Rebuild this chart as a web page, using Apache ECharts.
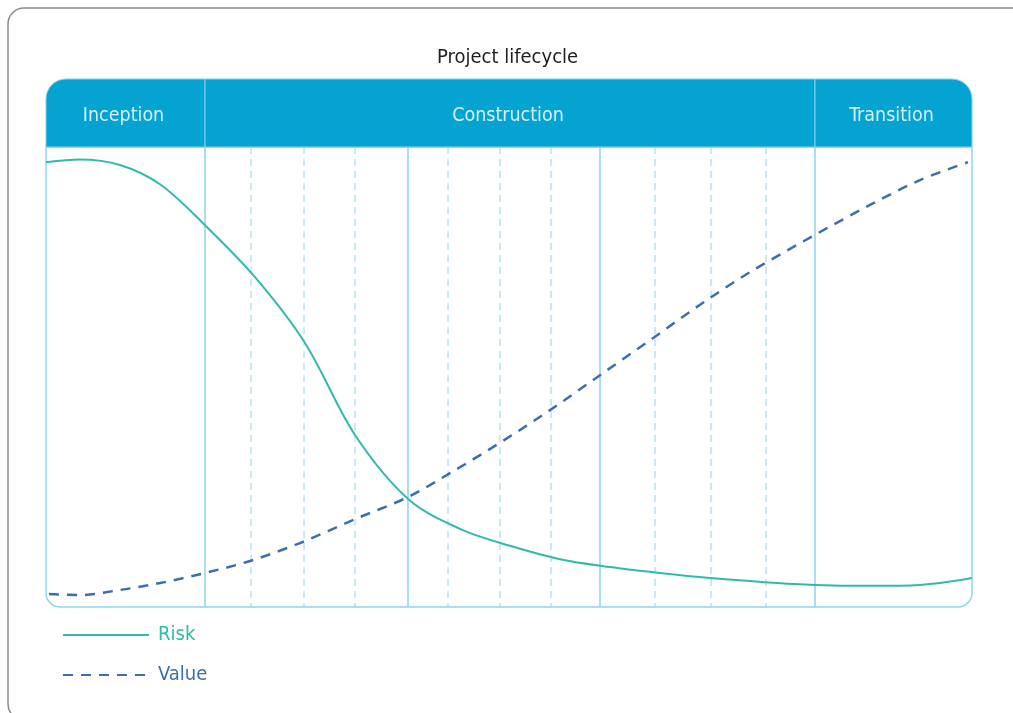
<!DOCTYPE html>
<html>
<head>
<meta charset="utf-8">
<title>Project lifecycle</title>
<script src="https://cdn.jsdelivr.net/npm/echarts@6/dist/echarts.min.js"></script>
<style>
  html, body { margin: 0; padding: 0; background: #ffffff; }
  #chart { width: 1013px; height: 713px; }
</style>
</head>
<body>
<div id="chart"></div>
<script>
// Time runs along x in arbitrary units (0 .. 926); risk and value are 0 .. 100.
const TIME_MAX = 926;

// Phases shown in the header band
const phaseNames = ['Inception', 'Construction', 'Transition'];
const phaseStart = [0, 159, 769];
const phaseEnd = [159, 769, 926];

// Iteration boundaries (solid) and sub-iteration boundaries (dashed)
const iterationLines = [159, 362, 554, 769];
const subIterationLines = [205, 258, 309, 402, 454, 505, 609, 665, 720];

// Risk curve
const riskX = [0, 34, 74, 114, 159, 209, 259, 309, 363, 414, 464, 514, 564, 614, 664, 719, 769, 824, 874, 926];
const riskY = [96.7, 97.3, 96.1, 91.9, 83.0, 71.7, 57.4, 37.4, 23.3, 17.0, 13.3, 10.4, 8.7, 7.4, 6.3, 5.4, 4.8, 4.6, 4.8, 6.3];

// Value curve
const valueX = [3, 34, 74, 114, 159, 204, 254, 309, 362, 404, 454, 504, 554, 604, 654, 704, 769, 824, 874, 922];
const valueY = [2.8, 2.6, 3.7, 5.2, 7.4, 10.0, 13.9, 19.1, 23.9, 29.1, 35.7, 42.8, 50.4, 58.0, 65.7, 72.8, 80.9, 87.4, 92.8, 96.7];

const FONT = '"Liberation Sans Narrow", "DejaVu Sans Condensed", "Roboto Condensed", "Liberation Sans", sans-serif';
const HEADER_BLUE = '#05a3d1';
const RISK_COLOR = '#2fbba8';
const VALUE_COLOR = '#3b6db5';

const chart = echarts.init(document.getElementById('chart'), null, { renderer: 'canvas' });

function renderHeader(params, api) {
  const i = params.dataIndex;
  const p0 = api.coord([api.value(0), 1]);
  const p1 = api.coord([api.value(1), 0]);
  let r = 0;
  if (i === 0) r = [20, 0, 0, 0];
  else if (i === phaseNames.length - 1) r = [0, 20, 0, 0];
  return {
    type: 'group',
    children: [
      {
        type: 'rect',
        shape: { x: p0[0], y: p0[1], width: p1[0] - p0[0], height: p1[1] - p0[1], r: r },
        style: { fill: HEADER_BLUE, stroke: '#84d2ea', lineWidth: 1 }
      },
      {
        type: 'text',
        style: {
          text: phaseNames[i],
          x: (p0[0] + p1[0]) / 2 - 2,
          y: (p0[1] + p1[1]) / 2 + 3,
          fill: '#d6f0f9',
          font: '19.5px ' + FONT,
          align: 'center',
          verticalAlign: 'middle'
        }
      }
    ]
  };
}

function renderFrame(params, api) {
  const p0 = api.coord([0, 100]);
  const p1 = api.coord([TIME_MAX, 0]);
  return {
    type: 'rect',
    shape: { x: p0[0], y: p0[1], width: p1[0] - p0[0], height: p1[1] - p0[1], r: [0, 0, 14, 14] },
    style: { fill: 'none', stroke: '#8fd6ee', lineWidth: 1.5 }
  };
}

function renderDivider(params, api) {
  const x = api.value(0);
  const dashed = api.value(1) === 1;
  const top = api.coord([x, 100]);
  const bottom = api.coord([x, 0]);
  return {
    type: 'line',
    shape: { x1: top[0], y1: top[1], x2: bottom[0], y2: bottom[1] },
    style: dashed
      ? { stroke: '#b5e3f3', lineWidth: 1.5, lineDash: [7, 5] }
      : { stroke: '#8cd3ec', lineWidth: 1.5 }
  };
}

const dividerData = iterationLines.map(x => [x, 0]).concat(subIterationLines.map(x => [x, 1]));

const option = {
  backgroundColor: '#ffffff',
  animation: false,
  title: {
    text: 'Project lifecycle',
    left: 432,
    top: 43,
    textStyle: { fontFamily: FONT, fontSize: 20, fontWeight: 'normal', color: '#1e1e1e' }
  },
  graphic: [
    {
      type: 'rect',
      z: -1,
      shape: { x: 8, y: 8, width: 1020, height: 712, r: 16 },
      style: { fill: 'none', stroke: '#8a8a8a', lineWidth: 1.5 }
    }
  ],
  legend: {
    orient: 'vertical',
    left: 62,
    top: 622,
    padding: 0,
    itemWidth: 86,
    itemHeight: 2,
    itemGap: 14,
    data: [
      { name: 'Risk', textStyle: { color: RISK_COLOR } },
      { name: 'Value', textStyle: { color: VALUE_COLOR } }
    ],
    textStyle: { fontFamily: FONT, fontSize: 20, lineHeight: 26, padding: [0, 0, 0, 4] }
  },
  grid: [
    { left: 46, width: 926, top: 79, height: 68 },
    { left: 46, width: 926, top: 147, height: 460 }
  ],
  xAxis: [
    { gridIndex: 0, type: 'value', min: 0, max: TIME_MAX, show: false },
    { gridIndex: 1, type: 'value', min: 0, max: TIME_MAX, show: false }
  ],
  yAxis: [
    { gridIndex: 0, type: 'value', min: 0, max: 1, show: false },
    { gridIndex: 1, type: 'value', min: 0, max: 100, show: false }
  ],
  series: [
    {
      name: 'phases',
      type: 'custom',
      xAxisIndex: 0,
      yAxisIndex: 0,
      renderItem: renderHeader,
      data: phaseStart.map((s, i) => [s, phaseEnd[i]]),
      silent: true,
      z: 2
    },
    {
      name: 'dividers',
      type: 'custom',
      xAxisIndex: 1,
      yAxisIndex: 1,
      renderItem: renderDivider,
      data: dividerData,
      silent: true,
      z: 1
    },
    {
      name: 'frame',
      type: 'custom',
      xAxisIndex: 1,
      yAxisIndex: 1,
      renderItem: renderFrame,
      data: [[0, 0]],
      silent: true,
      z: 1
    },
    {
      name: 'Risk',
      type: 'line',
      xAxisIndex: 1,
      yAxisIndex: 1,
      data: riskX.map((x, i) => [x, riskY[i]]),
      smooth: 0.33,
      symbol: 'none',
      lineStyle: { color: RISK_COLOR, width: 2 },
      itemStyle: { color: RISK_COLOR },
      z: 3
    },
    {
      name: 'Value',
      type: 'line',
      xAxisIndex: 1,
      yAxisIndex: 1,
      data: valueX.map((x, i) => [x, valueY[i]]),
      smooth: 0.33,
      symbol: 'none',
      lineStyle: { color: VALUE_COLOR, width: 2.5, type: [10, 8] },
      itemStyle: { color: VALUE_COLOR },
      z: 3
    }
  ]
};

chart.setOption(option);
</script>
</body>
</html>
